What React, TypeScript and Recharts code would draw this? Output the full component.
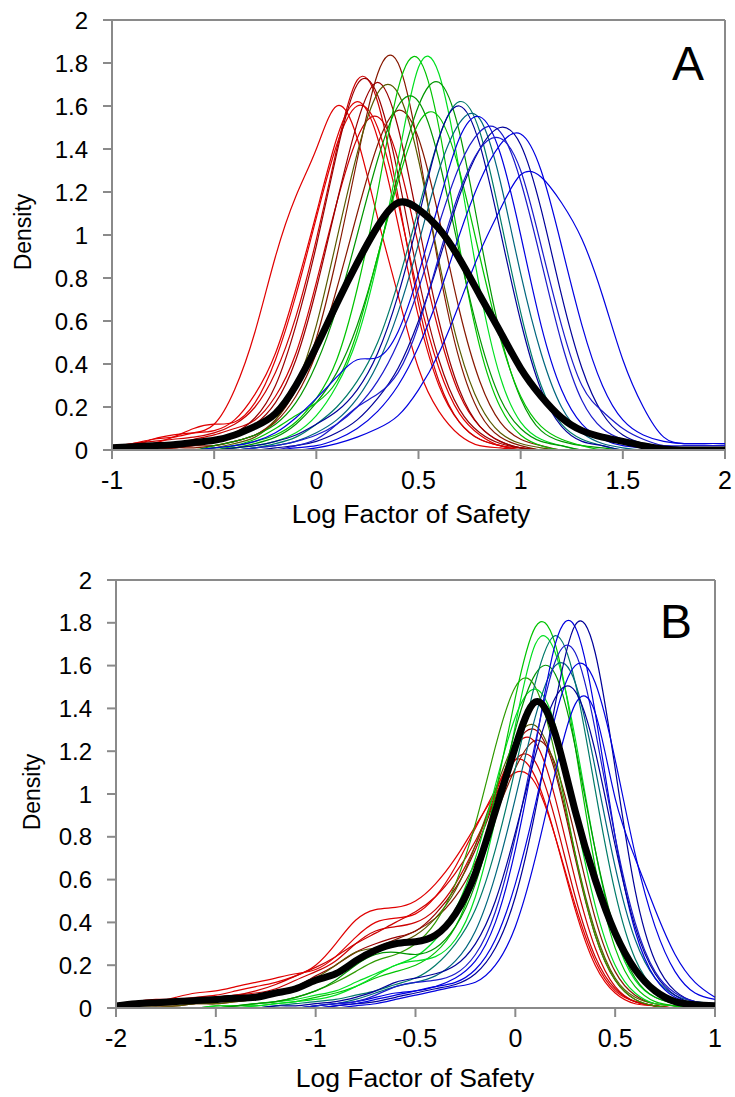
import { Line, LineChart, ReferenceLine, XAxis, YAxis } from 'recharts'

const AXIS = '#8a8a8a'
const FONT = '"Liberation Sans", Arial, sans-serif'

const RED = '#e00000'
const RED2 = '#cc0000'
const DRED = '#990000'
const DRED2 = '#861800'
const OLIVE = '#5a5a00'
const OLGREEN = '#2f9a00'
const GREEN = '#00c400'
const LGREEN = '#00e020'
const DGREEN = '#009600'
const TEAL = '#007a6a'
const TEAL2 = '#00667e'
const NAVY = '#000099'
const BLUE = '#0000e0'
const BLUE2 = '#1a1acc'

// ---------- Panel A: x = -1 .. 2 step 0.1 ----------
const X_A = [-1, -0.9, -0.8, -0.7, -0.6, -0.5, -0.4, -0.3, -0.2, -0.1, 0, 0.1, 0.2, 0.3, 0.4, 0.5, 0.6, 0.7, 0.8, 0.9, 1, 1.1, 1.2, 1.3, 1.4, 1.5, 1.6, 1.7, 1.8, 1.9, 2]
const TICKS_A = [-1, -0.5, 0, 0.5, 1, 1.5, 2]

const A_RED_1 = [0.02, 0.03, 0.05, 0.06, 0.08, 0.12, 0.28, 0.55, 0.9, 1.18, 1.4, 1.6, 1.45, 1.08, 0.72, 0.38, 0.18, 0.07, 0.02, 0.01, 0, 0, 0, 0, 0, 0, 0, 0, 0, 0, 0]
const A_RED_2 = [0.01, 0.02, 0.05, 0.07, 0.08, 0.09, 0.14, 0.26, 0.45, 0.75, 1.1, 1.45, 1.62, 1.45, 1.05, 0.62, 0.3, 0.13, 0.05, 0.02, 0, 0, 0, 0, 0, 0, 0, 0, 0, 0, 0]
const A_RED_3 = [0.01, 0.03, 0.04, 0.05, 0.06, 0.08, 0.12, 0.2, 0.36, 0.62, 0.98, 1.4, 1.72, 1.62, 1.18, 0.68, 0.32, 0.13, 0.05, 0.02, 0, 0, 0, 0, 0, 0, 0, 0, 0, 0, 0]
const A_RED_4 = [0, 0.01, 0.03, 0.06, 0.1, 0.12, 0.13, 0.22, 0.42, 0.72, 1.08, 1.42, 1.6, 1.5, 1.15, 0.72, 0.38, 0.17, 0.07, 0.02, 0.01, 0, 0, 0, 0, 0, 0, 0, 0, 0, 0]
const A_RED_5 = [0, 0.01, 0.02, 0.03, 0.05, 0.07, 0.1, 0.14, 0.25, 0.45, 0.78, 1.15, 1.45, 1.55, 1.35, 0.95, 0.55, 0.26, 0.11, 0.04, 0.01, 0, 0, 0, 0, 0, 0, 0, 0, 0, 0]
const A_DRED_1 = [0, 0, 0.01, 0.02, 0.03, 0.05, 0.08, 0.15, 0.3, 0.58, 0.95, 1.38, 1.7, 1.65, 1.28, 0.8, 0.42, 0.19, 0.08, 0.03, 0.01, 0, 0, 0, 0, 0, 0, 0, 0, 0, 0]
const A_DRED_2 = [0, 0, 0, 0.01, 0.01, 0.02, 0.04, 0.07, 0.14, 0.28, 0.52, 0.9, 1.35, 1.75, 1.8, 1.4, 0.85, 0.42, 0.17, 0.06, 0.02, 0, 0, 0, 0, 0, 0, 0, 0, 0, 0]
const A_DRED_3 = [0, 0, 0, 0.01, 0.02, 0.04, 0.07, 0.12, 0.22, 0.42, 0.75, 1.15, 1.52, 1.71, 1.5, 1.05, 0.6, 0.28, 0.11, 0.04, 0.01, 0, 0, 0, 0, 0, 0, 0, 0, 0, 0]
const A_DRED_4 = [0, 0, 0.01, 0.01, 0.02, 0.02, 0.04, 0.07, 0.13, 0.25, 0.45, 0.75, 1.1, 1.42, 1.58, 1.45, 1.08, 0.65, 0.32, 0.13, 0.05, 0.02, 0, 0, 0, 0, 0, 0, 0, 0, 0]
const A_OLIVE_1 = [0, 0, 0, 0, 0, 0.01, 0.03, 0.06, 0.14, 0.3, 0.58, 0.98, 1.38, 1.66, 1.66, 1.35, 0.88, 0.47, 0.21, 0.08, 0.03, 0.01, 0, 0, 0, 0, 0, 0, 0, 0, 0]
const A_GREEN_1 = [0, 0, 0, 0, 0, 0.01, 0.02, 0.04, 0.07, 0.13, 0.24, 0.42, 0.75, 1.2, 1.68, 1.82, 1.5, 0.95, 0.48, 0.2, 0.07, 0.02, 0, 0, 0, 0, 0, 0, 0, 0, 0]
const A_GREEN_2 = [0, 0, 0, 0, 0, 0, 0.01, 0.02, 0.04, 0.08, 0.16, 0.3, 0.52, 0.88, 1.35, 1.78, 1.75, 1.3, 0.75, 0.34, 0.13, 0.05, 0.02, 0, 0, 0, 0, 0, 0, 0, 0]
const A_GREEN_3 = [0, 0, 0, 0, 0, 0, 0.01, 0.03, 0.06, 0.12, 0.22, 0.36, 0.58, 0.9, 1.28, 1.6, 1.71, 1.48, 1.0, 0.54, 0.24, 0.09, 0.04, 0.02, 0.01, 0, 0, 0, 0, 0, 0]
const A_DGREEN_1 = [0, 0, 0, 0, 0, 0.02, 0.04, 0.07, 0.12, 0.22, 0.4, 0.66, 1.0, 1.35, 1.6, 1.62, 1.35, 0.92, 0.52, 0.24, 0.1, 0.04, 0.02, 0, 0, 0, 0, 0, 0, 0, 0]
const A_GREEN_4 = [0, 0, 0, 0, 0, 0, 0.02, 0.05, 0.1, 0.16, 0.22, 0.32, 0.55, 0.9, 1.25, 1.52, 1.55, 1.3, 0.9, 0.52, 0.25, 0.11, 0.05, 0.02, 0, 0, 0, 0, 0, 0, 0]
const A_TEAL_1 = [0, 0, 0, 0, 0, 0, 0, 0.01, 0.03, 0.06, 0.12, 0.2, 0.32, 0.5, 0.78, 1.12, 1.45, 1.62, 1.48, 1.08, 0.64, 0.3, 0.12, 0.05, 0.02, 0, 0, 0, 0, 0, 0]
const A_NAVY_1 = [0, 0, 0, 0, 0, 0, 0.01, 0.02, 0.04, 0.07, 0.12, 0.18, 0.28, 0.45, 0.72, 1.08, 1.45, 1.6, 1.42, 1.02, 0.6, 0.28, 0.11, 0.04, 0.02, 0, 0, 0, 0, 0, 0]
const A_NAVY_2 = [0, 0, 0, 0, 0, 0, 0, 0.01, 0.02, 0.04, 0.08, 0.14, 0.24, 0.4, 0.64, 0.96, 1.3, 1.52, 1.54, 1.25, 0.82, 0.45, 0.2, 0.08, 0.03, 0.01, 0, 0, 0, 0, 0]
const A_BLUE_1 = [0, 0, 0, 0, 0, 0.01, 0.02, 0.04, 0.08, 0.15, 0.24, 0.34, 0.42, 0.43, 0.55, 0.82, 1.15, 1.45, 1.55, 1.38, 1.0, 0.58, 0.28, 0.12, 0.05, 0.02, 0.01, 0, 0, 0, 0]
const A_BLUE_2 = [0, 0, 0, 0, 0, 0, 0, 0.01, 0.02, 0.04, 0.07, 0.12, 0.2, 0.32, 0.5, 0.75, 1.05, 1.32, 1.48, 1.48, 1.25, 0.88, 0.5, 0.23, 0.1, 0.05, 0.03, 0.02, 0.02, 0.02, 0.02]
const A_NAVY_3 = [0, 0, 0, 0, 0, 0, 0, 0, 0.01, 0.02, 0.04, 0.08, 0.14, 0.24, 0.38, 0.6, 0.88, 1.18, 1.4, 1.5, 1.42, 1.12, 0.72, 0.38, 0.17, 0.07, 0.03, 0.01, 0, 0, 0]
const A_BLUE_3 = [0, 0, 0, 0, 0, 0, 0, 0, 0, 0.01, 0.02, 0.05, 0.1, 0.18, 0.3, 0.48, 0.72, 1.0, 1.25, 1.42, 1.47, 1.3, 0.95, 0.58, 0.3, 0.14, 0.07, 0.04, 0.03, 0.03, 0.03]
const A_BLUE_4 = [0, 0, 0, 0, 0, 0, 0, 0, 0, 0, 0.01, 0.03, 0.06, 0.1, 0.16, 0.28, 0.45, 0.68, 0.92, 1.12, 1.28, 1.27, 1.15, 0.98, 0.72, 0.42, 0.2, 0.06, 0.03, 0.03, 0.03]
const A_BLUE_5 = [0, 0, 0, 0, 0, 0, 0, 0, 0, 0.02, 0.05, 0.12, 0.2, 0.26, 0.36, 0.58, 0.9, 1.2, 1.4, 1.45, 1.3, 0.95, 0.58, 0.3, 0.18, 0.1, 0.05, 0.02, 0.01, 0, 0]
const A_MEAN = [0.01, 0.015, 0.02, 0.025, 0.035, 0.045, 0.07, 0.11, 0.17, 0.3, 0.48, 0.68, 0.87, 1.04, 1.15, 1.12, 1.03, 0.89, 0.72, 0.55, 0.38, 0.25, 0.15, 0.09, 0.06, 0.04, 0.02, 0.005, 0, 0, 0]

// ---------- Panel B: x = -2 .. 1 step 0.1 ----------
const X_B = [-2, -1.9, -1.8, -1.7, -1.6, -1.5, -1.4, -1.3, -1.2, -1.1, -1, -0.9, -0.8, -0.7, -0.6, -0.5, -0.4, -0.3, -0.2, -0.1, 0, 0.1, 0.2, 0.3, 0.4, 0.5, 0.6, 0.7, 0.8, 0.9, 1]
const TICKS_B = [-2, -1.5, -1, -0.5, 0, 0.5, 1]

const B_RED_1 = [0.01, 0.02, 0.03, 0.04, 0.05, 0.06, 0.08, 0.1, 0.12, 0.15, 0.2, 0.3, 0.41, 0.46, 0.47, 0.5, 0.58, 0.7, 0.85, 1.0, 1.1, 1.05, 0.8, 0.48, 0.22, 0.08, 0.03, 0.01, 0, 0, 0]
const B_RED_2 = [0.01, 0.03, 0.04, 0.04, 0.04, 0.05, 0.06, 0.08, 0.11, 0.15, 0.19, 0.24, 0.3, 0.35, 0.4, 0.45, 0.52, 0.63, 0.78, 0.98, 1.16, 1.15, 0.88, 0.52, 0.24, 0.09, 0.03, 0.01, 0, 0, 0]
const B_RED_3 = [0.02, 0.03, 0.03, 0.03, 0.04, 0.05, 0.06, 0.07, 0.09, 0.13, 0.17, 0.22, 0.3, 0.36, 0.38, 0.4, 0.46, 0.58, 0.76, 1.0, 1.22, 1.24, 0.98, 0.6, 0.28, 0.1, 0.03, 0.01, 0, 0, 0]
const B_RED_4 = [0.01, 0.02, 0.03, 0.05, 0.07, 0.08, 0.1, 0.12, 0.14, 0.16, 0.18, 0.24, 0.33, 0.4, 0.42, 0.44, 0.52, 0.66, 0.84, 1.02, 1.16, 1.08, 0.8, 0.46, 0.2, 0.07, 0.02, 0.01, 0, 0, 0]
const B_DRED_1 = [0.01, 0.02, 0.02, 0.02, 0.03, 0.03, 0.04, 0.05, 0.07, 0.1, 0.15, 0.2, 0.26, 0.3, 0.33, 0.36, 0.44, 0.56, 0.74, 0.98, 1.22, 1.3, 1.1, 0.7, 0.34, 0.13, 0.04, 0.01, 0, 0, 0]
const B_DRED_2 = [0, 0.01, 0.01, 0.01, 0.02, 0.02, 0.03, 0.04, 0.06, 0.08, 0.12, 0.17, 0.23, 0.28, 0.32, 0.36, 0.42, 0.52, 0.68, 0.9, 1.12, 1.25, 1.14, 0.8, 0.42, 0.17, 0.06, 0.02, 0.01, 0, 0]
const B_OLIVE_1 = [0.01, 0.01, 0.01, 0.01, 0.02, 0.02, 0.03, 0.04, 0.06, 0.09, 0.14, 0.2, 0.26, 0.28, 0.3, 0.34, 0.42, 0.55, 0.76, 1.02, 1.25, 1.32, 1.12, 0.72, 0.36, 0.14, 0.05, 0.02, 0.01, 0, 0]
const B_OLGREEN_1 = [0, 0, 0, 0, 0, 0.01, 0.01, 0.02, 0.03, 0.05, 0.08, 0.12, 0.17, 0.22, 0.25, 0.3, 0.4, 0.58, 0.86, 1.22, 1.5, 1.5, 1.18, 0.72, 0.34, 0.13, 0.04, 0.01, 0, 0, 0]
const B_GREEN_1 = [0, 0, 0, 0, 0, 0.01, 0.01, 0.02, 0.03, 0.04, 0.06, 0.08, 0.12, 0.16, 0.2, 0.24, 0.32, 0.46, 0.7, 1.04, 1.36, 1.49, 1.32, 0.9, 0.48, 0.2, 0.07, 0.02, 0.01, 0, 0]
const B_GREEN_2 = [0, 0, 0, 0, 0, 0, 0.01, 0.01, 0.02, 0.03, 0.05, 0.07, 0.1, 0.14, 0.17, 0.2, 0.26, 0.38, 0.62, 1.0, 1.45, 1.78, 1.7, 1.22, 0.66, 0.28, 0.1, 0.03, 0.01, 0, 0]
const B_GREEN_3 = [0, 0, 0, 0, 0, 0, 0, 0.01, 0.02, 0.03, 0.04, 0.06, 0.1, 0.15, 0.2, 0.22, 0.24, 0.32, 0.52, 0.88, 1.32, 1.7, 1.66, 1.26, 0.74, 0.34, 0.13, 0.05, 0.02, 0, 0]
const B_GREEN_4 = [0, 0, 0, 0, 0, 0, 0.01, 0.02, 0.03, 0.05, 0.08, 0.13, 0.2, 0.25, 0.26, 0.25, 0.28, 0.38, 0.58, 0.92, 1.3, 1.56, 1.56, 1.22, 0.74, 0.36, 0.14, 0.05, 0.02, 0, 0]
const B_TEAL_1 = [0, 0, 0, 0, 0, 0, 0, 0, 0.01, 0.02, 0.03, 0.04, 0.06, 0.08, 0.11, 0.14, 0.2, 0.3, 0.46, 0.74, 1.12, 1.52, 1.74, 1.52, 1.02, 0.54, 0.23, 0.09, 0.04, 0.02, 0.01]
const B_TEAL_2 = [0, 0, 0, 0, 0, 0, 0, 0, 0, 0, 0.01, 0.02, 0.04, 0.07, 0.1, 0.12, 0.15, 0.22, 0.36, 0.62, 0.98, 1.36, 1.6, 1.52, 1.12, 0.66, 0.32, 0.14, 0.06, 0.03, 0.02]
const B_BLUE_1 = [0, 0, 0, 0, 0, 0, 0, 0, 0, 0, 0.01, 0.02, 0.03, 0.05, 0.07, 0.08, 0.1, 0.14, 0.22, 0.4, 0.74, 1.22, 1.7, 1.78, 1.38, 0.8, 0.36, 0.14, 0.05, 0.02, 0.01]
const B_NAVY_1 = [0, 0, 0, 0, 0, 0, 0, 0, 0, 0, 0, 0.01, 0.02, 0.03, 0.05, 0.07, 0.09, 0.11, 0.16, 0.28, 0.52, 0.92, 1.42, 1.79, 1.66, 1.12, 0.55, 0.22, 0.08, 0.03, 0.02]
const B_BLUE_2 = [0, 0, 0, 0, 0, 0, 0, 0, 0, 0, 0.01, 0.02, 0.03, 0.06, 0.1, 0.12, 0.13, 0.16, 0.25, 0.45, 0.8, 1.24, 1.62, 1.66, 1.3, 0.8, 0.4, 0.17, 0.07, 0.03, 0.02]
const B_BLUE_3 = [0, 0, 0, 0, 0, 0, 0, 0, 0, 0, 0, 0.01, 0.02, 0.04, 0.06, 0.08, 0.1, 0.12, 0.18, 0.32, 0.58, 0.95, 1.36, 1.6, 1.52, 1.16, 0.72, 0.38, 0.17, 0.07, 0.04]
const B_BLUE_4 = [0, 0, 0, 0, 0, 0, 0, 0, 0, 0, 0, 0, 0.01, 0.02, 0.04, 0.06, 0.08, 0.1, 0.12, 0.2, 0.38, 0.7, 1.1, 1.42, 1.38, 0.98, 0.7, 0.46, 0.25, 0.12, 0.05]
const B_NAVY_2 = [0, 0, 0, 0, 0, 0, 0, 0, 0.01, 0.01, 0.02, 0.03, 0.05, 0.08, 0.12, 0.14, 0.16, 0.2, 0.3, 0.5, 0.82, 1.18, 1.45, 1.48, 1.2, 0.76, 0.38, 0.16, 0.06, 0.02, 0.01]
const B_MEAN = [0.01, 0.02, 0.025, 0.03, 0.035, 0.04, 0.045, 0.05, 0.07, 0.09, 0.13, 0.16, 0.22, 0.27, 0.3, 0.31, 0.34, 0.44, 0.63, 0.92, 1.22, 1.43, 1.28, 0.92, 0.6, 0.35, 0.18, 0.08, 0.03, 0.015, 0.01]

const Y_TICKS = [0, 0.2, 0.4, 0.6, 0.8, 1, 1.2, 1.4, 1.6, 1.8, 2]

type Series = { key: string; color: string; values: number[] }

// drawing order: reds first, blues last, mean on top
const SERIES_A: Series[] = [
  { key: 'r1', color: RED, values: A_RED_1 },
  { key: 'r2', color: RED, values: A_RED_2 },
  { key: 'r3', color: RED2, values: A_RED_3 },
  { key: 'r4', color: RED, values: A_RED_4 },
  { key: 'r5', color: RED2, values: A_RED_5 },
  { key: 'd1', color: DRED, values: A_DRED_1 },
  { key: 'd2', color: DRED2, values: A_DRED_2 },
  { key: 'd3', color: DRED, values: A_DRED_3 },
  { key: 'd4', color: DRED2, values: A_DRED_4 },
  { key: 'o1', color: OLIVE, values: A_OLIVE_1 },
  { key: 'g1', color: GREEN, values: A_GREEN_1 },
  { key: 'g2', color: LGREEN, values: A_GREEN_2 },
  { key: 'g3', color: DGREEN, values: A_GREEN_3 },
  { key: 'g4', color: DGREEN, values: A_DGREEN_1 },
  { key: 'g5', color: GREEN, values: A_GREEN_4 },
  { key: 't1', color: TEAL, values: A_TEAL_1 },
  { key: 'n1', color: NAVY, values: A_NAVY_1 },
  { key: 'n2', color: TEAL2, values: A_NAVY_2 },
  { key: 'b1', color: BLUE, values: A_BLUE_1 },
  { key: 'b2', color: BLUE2, values: A_BLUE_2 },
  { key: 'n3', color: NAVY, values: A_NAVY_3 },
  { key: 'b3', color: BLUE, values: A_BLUE_3 },
  { key: 'b4', color: BLUE, values: A_BLUE_4 },
  { key: 'b5', color: BLUE2, values: A_BLUE_5 },
]

const SERIES_B: Series[] = [
  { key: 'r1', color: RED, values: B_RED_1 },
  { key: 'r2', color: RED2, values: B_RED_2 },
  { key: 'r3', color: RED2, values: B_RED_3 },
  { key: 'r4', color: RED, values: B_RED_4 },
  { key: 'd1', color: DRED, values: B_DRED_1 },
  { key: 'd2', color: DRED2, values: B_DRED_2 },
  { key: 'o1', color: OLIVE, values: B_OLIVE_1 },
  { key: 'og', color: OLGREEN, values: B_OLGREEN_1 },
  { key: 'g1', color: LGREEN, values: B_GREEN_1 },
  { key: 'g2', color: GREEN, values: B_GREEN_2 },
  { key: 'g3', color: LGREEN, values: B_GREEN_3 },
  { key: 'g4', color: DGREEN, values: B_GREEN_4 },
  { key: 't1', color: TEAL, values: B_TEAL_1 },
  { key: 't2', color: TEAL2, values: B_TEAL_2 },
  { key: 'b1', color: BLUE, values: B_BLUE_1 },
  { key: 'n1', color: NAVY, values: B_NAVY_1 },
  { key: 'b2', color: BLUE2, values: B_BLUE_2 },
  { key: 'b3', color: BLUE, values: B_BLUE_3 },
  { key: 'b4', color: BLUE, values: B_BLUE_4 },
  { key: 'n2', color: NAVY, values: B_NAVY_2 },
]

function buildRows(xs: number[], series: Series[], mean: number[]) {
  return xs.map((x, i) => {
    const row: Record<string, number> = { x, mean: mean[i] }
    series.forEach((s) => { row[s.key] = s.values[i] })
    return row
  })
}

type PanelProps = {
  xs: number[]
  xTicks: number[]
  series: Series[]
  mean: number[]
  letter: string
  yAxisWidth: number
  right: number
  bottom: number
  densityX: number
  titleX: number
  titleY: number
  letterX: number
  letterY: number
}

function Panel(p: PanelProps) {
  const rows = buildRows(p.xs, p.series, p.mean)
  const xMax = p.xTicks[p.xTicks.length - 1]
  return (
    <LineChart width={735} height={545} data={rows} margin={{ top: 20, right: p.right, bottom: p.bottom, left: 0 }}>
      <XAxis
        dataKey="x"
        type="number"
        domain={[p.xTicks[0], xMax]}
        ticks={p.xTicks}
        interval={0}
        height={80}
        tickSize={9}
        tickMargin={12}
        axisLine={{ stroke: AXIS, strokeWidth: 2 }}
        tickLine={{ stroke: AXIS, strokeWidth: 2 }}
        tick={{ fill: '#000', fontSize: 25, fontFamily: FONT }}
      />
      <YAxis
        type="number"
        domain={[0, 2]}
        allowDataOverflow
        ticks={Y_TICKS}
        interval={0}
        width={p.yAxisWidth}
        tickSize={9}
        tickMargin={15}
        axisLine={{ stroke: AXIS, strokeWidth: 2 }}
        tickLine={{ stroke: AXIS, strokeWidth: 2 }}
        tick={{ fill: '#000', fontSize: 24, fontFamily: FONT }}
      />
      <ReferenceLine y={2} stroke={AXIS} strokeWidth={2} />
      <ReferenceLine x={xMax} stroke={AXIS} strokeWidth={2} />
      {p.series.map((s) => (
        <Line
          key={s.key}
          dataKey={s.key}
          type="natural"
          stroke={s.color}
          strokeWidth={1.2}
          dot={false}
          activeDot={false}
          isAnimationActive={false}
        />
      ))}
      <Line dataKey="mean" type="natural" stroke="#000" strokeWidth={7} dot={false} activeDot={false} isAnimationActive={false} />
      <text x={p.densityX} y={232} transform={`rotate(-90 ${p.densityX} 232)`} textAnchor="middle" fontSize={23} fontFamily={FONT} fill="#000">
        Density
      </text>
      <text x={p.titleX} y={p.titleY} textAnchor="middle" fontSize={26.5} fontFamily={FONT} fill="#000">
        Log Factor of Safety
      </text>
      <text x={p.letterX} y={p.letterY} fontSize={48} fontFamily={FONT} fill="#000">
        {p.letter}
      </text>
    </LineChart>
  )
}

export default function App() {
  return (
    <div style={{ position: 'absolute', left: 0, top: 0, width: 735, height: 1097, background: '#fff', fontFamily: FONT }}>
      <div style={{ position: 'absolute', left: 0, top: 0 }}>
        <Panel
          xs={X_A} xTicks={TICKS_A} series={SERIES_A} mean={A_MEAN} letter="A"
          yAxisWidth={112} right={10} bottom={15}
          densityX={31} titleX={411} titleY={523} letterX={672} letterY={80}
        />
      </div>
      <div style={{ position: 'absolute', left: 0, top: 560 }}>
        <Panel
          xs={X_B} xTicks={TICKS_B} series={SERIES_B} mean={B_MEAN} letter="B"
          yAxisWidth={116} right={20} bottom={17}
          densityX={40} titleX={415} titleY={527} letterX={660} letterY={78}
        />
      </div>
    </div>
  )
}
